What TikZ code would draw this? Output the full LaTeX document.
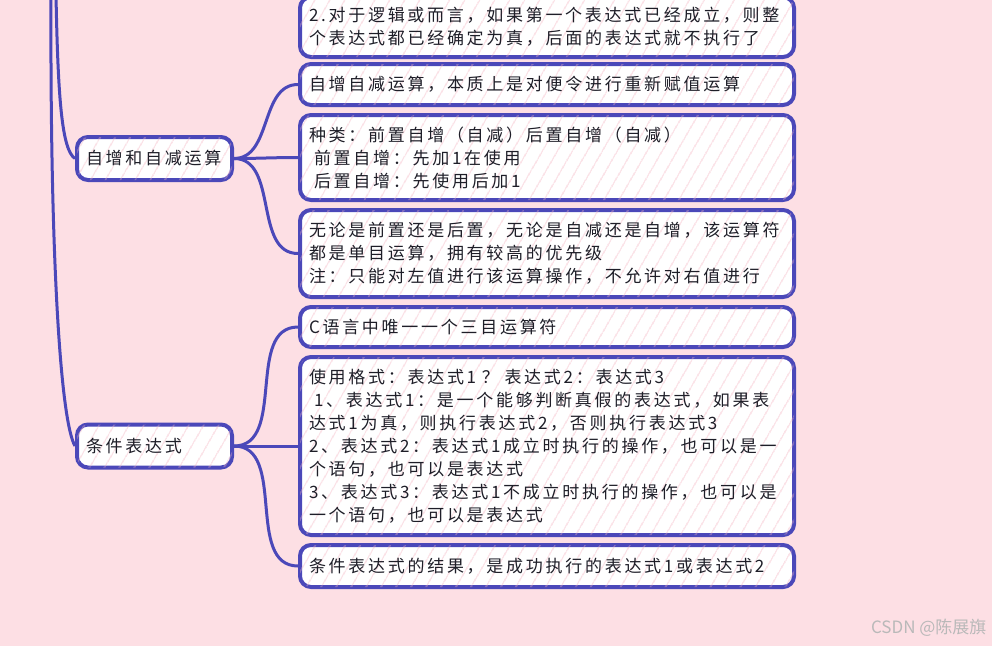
\documentclass[tikz,border=0pt]{standalone}
\usepackage{fontspec}
\setmainfont{Noto Sans CJK SC}[LetterSpace=16]
\newfontfamily\markfont{Noto Sans CJK SC}
\usetikzlibrary{patterns.meta}
\definecolor{mapblue}{RGB}{75,72,185}
\definecolor{mappink}{RGB}{253,223,228}
\definecolor{maphatch}{RGB}{246,178,192}
\definecolor{maptext}{RGB}{30,30,40}

\begin{document}
\begin{tikzpicture}[
  x=1pt,y=-1pt,
  font=\fontsize{17}{23}\selectfont,
  box/.style={draw=mapblue,line width=4pt,rounded corners=11pt,fill=white,
    postaction={pattern color=maphatch,pattern={Lines[angle=60,distance=13pt,line width=0.6pt]}},
    text=maptext,align=left,inner xsep=9pt,inner ysep=0pt,anchor=west},
  leaf/.style={box,text width=476pt,minimum width=494pt},
  topic/.style={box,text width=137pt,minimum width=155pt,minimum height=43pt},
  link/.style={draw=mapblue,line width=3pt}
]
\fill[mappink] (0,0) rectangle (992,646);
\useasboundingbox (0,0) rectangle (992,646);

% topics
\node[topic] (incdec) at (75,158.5) {自增和自减运算};
\node[topic] (cond) at (75,446) {条件表达式};

% leaves
\node[leaf,minimum height=60pt] (orrule) at (298,27) {2.对于逻辑或而言，如果第一个表达式已经成立，则整\\个表达式都已经确定为真，后面的表达式就不执行了};
\node[leaf,minimum height=41pt] (essence) at (298,84.5) {自增自减运算，本质上是对便令进行重新赋值运算};
\node[leaf,minimum height=85pt] (kinds) at (298,157.5) {种类：前置自增（自减）后置自增（自减）\\\hspace*{5pt}前置自增：先加1在使用\\\hspace*{5pt}后置自增：先使用后加1};
\node[leaf,minimum height=87pt] (unary) at (298,253.5) {无论是前置还是后置，无论是自减还是自增，该运算符\\都是单目运算，拥有较高的优先级\\注：只能对左值进行该运算操作，不允许对右值进行};
\node[leaf,minimum height=40pt] (ternary) at (298,327) {C语言中唯一一个三目运算符};
\node[leaf,minimum height=178pt] (usage) at (298,446) {使用格式：表达式1 ？ 表达式2：表达式3\\\hspace*{5pt}1、表达式1：是一个能够判断真假的表达式，如果表\\达式1为真，则执行表达式2，否则执行表达式3\\2、表达式2：表达式1成立时执行的操作，也可以是一\\个语句，也可以是表达式\\3、表达式3：表达式1不成立时执行的操作，也可以是\\一个语句，也可以是表达式};
\node[leaf,minimum height=42pt] (result) at (298,566) {条件表达式的结果，是成功执行的表达式1或表达式2};

% branches from above
\coordinate (up1) at (56,-5);
\coordinate (up2) at (51,-5);
\draw[link] (up1) .. controls (58,100) and (62,150) .. (incdec.west);
\draw[link] (up2) .. controls (50,250) and (60,420) .. (cond.west);

% branches to leaves
\foreach \leafname in {essence,kinds,unary}
  \draw[link] (incdec.east) to[out=0,in=180] (\leafname.west);
\foreach \leafname in {ternary,usage,result}
  \draw[link] (cond.east) to[out=0,in=180] (\leafname.west);

\node[text=gray!55,font=\markfont\fontsize{17}{17}\selectfont,anchor=east] (mark) at (990,628) {CSDN @陈展旗};
\end{tikzpicture}
\end{document}
